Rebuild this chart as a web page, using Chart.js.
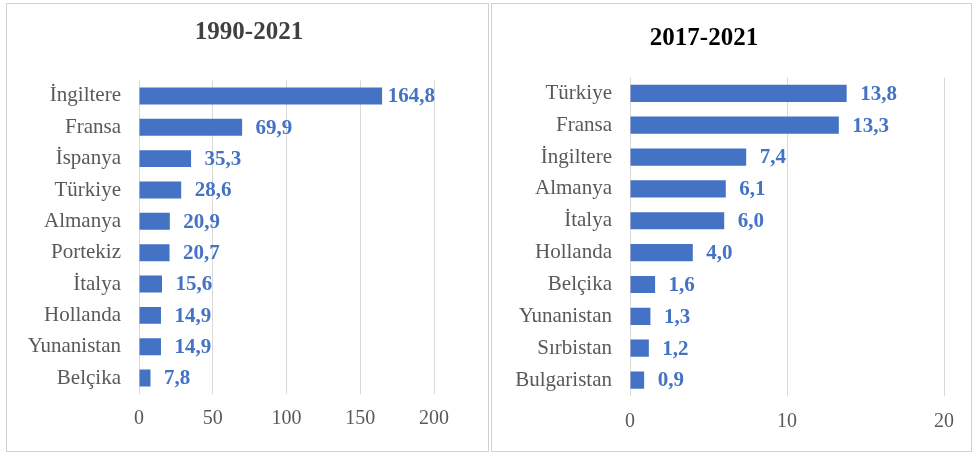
<!DOCTYPE html>
<html>
<head>
<meta charset="utf-8">
<script src="https://cdn.jsdelivr.net/npm/chart.js@4/dist/chart.umd.min.js"></script>
<style>
  html, body { margin: 0; padding: 0; background: #ffffff; }
  body { width: 975px; height: 455px; position: relative; overflow: hidden; }
  .panel { position: absolute; border: 1px solid #d0d0d0; box-sizing: border-box; }
  canvas { position: absolute; }
</style>
</head>
<body>
<div class="panel" style="left:6px;top:3px;width:483px;height:449px;"></div>
<div class="panel" style="left:491px;top:3px;width:481px;height:449px;"></div>
<canvas id="chartA" style="left:7px;top:4px;width:481px;height:447px;" width="481" height="447"></canvas>
<canvas id="chartB" style="left:492px;top:4px;width:479px;height:447px;" width="479" height="447"></canvas>
<script>
// ---- data ----
const titleA = '1990-2021';
const categoriesA = ['İngiltere', 'Fransa', 'İspanya', 'Türkiye', 'Almanya', 'Portekiz', 'İtalya', 'Hollanda', 'Yunanistan', 'Belçika'];
const valuesA = [164.8, 69.9, 35.3, 28.6, 20.9, 20.7, 15.6, 14.9, 14.9, 7.8];
const ticksA = [0, 50, 100, 150, 200];

const titleB = '2017-2021';
const categoriesB = ['Türkiye', 'Fransa', 'İngiltere', 'Almanya', 'İtalya', 'Hollanda', 'Belçika', 'Yunanistan', 'Sırbistan', 'Bulgaristan'];
const valuesB = [13.8, 13.3, 7.4, 6.1, 6.0, 4.0, 1.6, 1.3, 1.2, 0.9];
const ticksB = [0, 10, 20];

// ---- styling ----
const BAR = '#4472C4';
const SERIF = '"Liberation Serif", "Times New Roman", serif';
const TICK_SIZE = 20;

const valueLabels = {
  id: 'valueLabels',
  afterDatasetsDraw(chart) {
    const ctx = chart.ctx;
    const area = chart.chartArea;
    const meta = chart.getDatasetMeta(0);
    const data = chart.data.datasets[0].data;
    ctx.save();
    ctx.font = 'bold 21px ' + SERIF;
    ctx.fillStyle = BAR;
    ctx.textAlign = 'left';
    ctx.textBaseline = 'middle';
    meta.data.forEach((el, i) => {
      const txt = Number(data[i]).toFixed(1).replace('.', ',');
      const w = ctx.measureText(txt).width;
      const x = Math.min(el.x + 13.5, area.right + 1 - w);
      ctx.fillText(txt, x, el.y + 1);
    });
    ctx.restore();
  }
};

const titleShift = {
  id: 'titleShift',
  afterLayout(chart, args, opts) {
    const tb = chart.titleBlock;
    if (tb && opts.center != null) {
      tb.left = opts.center - 150;
      tb.right = opts.center + 150;
    }
  }
};

function makeChart(id, title, titleColor, titlePad, titleCenter, cats, vals, tickVals, yWidth, padRight, padBottom, xTickPad) {
  const maxV = tickVals[tickVals.length - 1];
  const step = tickVals[1] - tickVals[0];
  return new Chart(document.getElementById(id), {
    type: 'bar',
    data: {
      labels: cats,
      datasets: [{
        data: vals,
        backgroundColor: BAR,
        borderWidth: 0,
        barPercentage: 0.54,
        categoryPercentage: 1.0
      }]
    },
    plugins: [valueLabels, titleShift],
    options: {
      indexAxis: 'y',
      responsive: false,
      animation: false,
      layout: { padding: { left: 0, right: padRight, top: 0, bottom: padBottom } },
      plugins: {
        legend: { display: false },
        tooltip: { enabled: false },
        title: {
          display: true,
          text: title,
          color: titleColor,
          font: { family: SERIF, size: 25, weight: 'bold', lineHeight: 1.2 },
          padding: titlePad
        },
        titleShift: { center: titleCenter }
      },
      scales: {
        x: {
          min: 0,
          max: maxV,
          ticks: {
            stepSize: step,
            color: '#595959',
            font: { family: SERIF, size: TICK_SIZE },
            padding: xTickPad,
            maxRotation: 0
          },
          grid: { color: '#d9d9d9', lineWidth: 1, drawTicks: false },
          border: { display: false },
          afterFit(s) { s.height = xTickPad + TICK_SIZE * 1.2; }
        },
        y: {
          ticks: {
            color: '#595959',
            font: { family: SERIF, size: 21 },
            padding: 18
          },
          grid: { display: false, drawTicks: false },
          border: { display: false },
          afterFit(s) { s.width = yWidth; }
        }
      }
    }
  });
}

makeChart('chartA', titleA, '#404040', { top: 13.3, bottom: 33 }, 242,
  categoriesA, valuesA, ticksA, 132, 54, 20, 13.3);
makeChart('chartB', titleB, '#000000', { top: 19.8, bottom: 23.6 }, 212,
  categoriesB, valuesB, ticksB, 138, 27, 17.3, 13.7);
</script>
</body>
</html>
